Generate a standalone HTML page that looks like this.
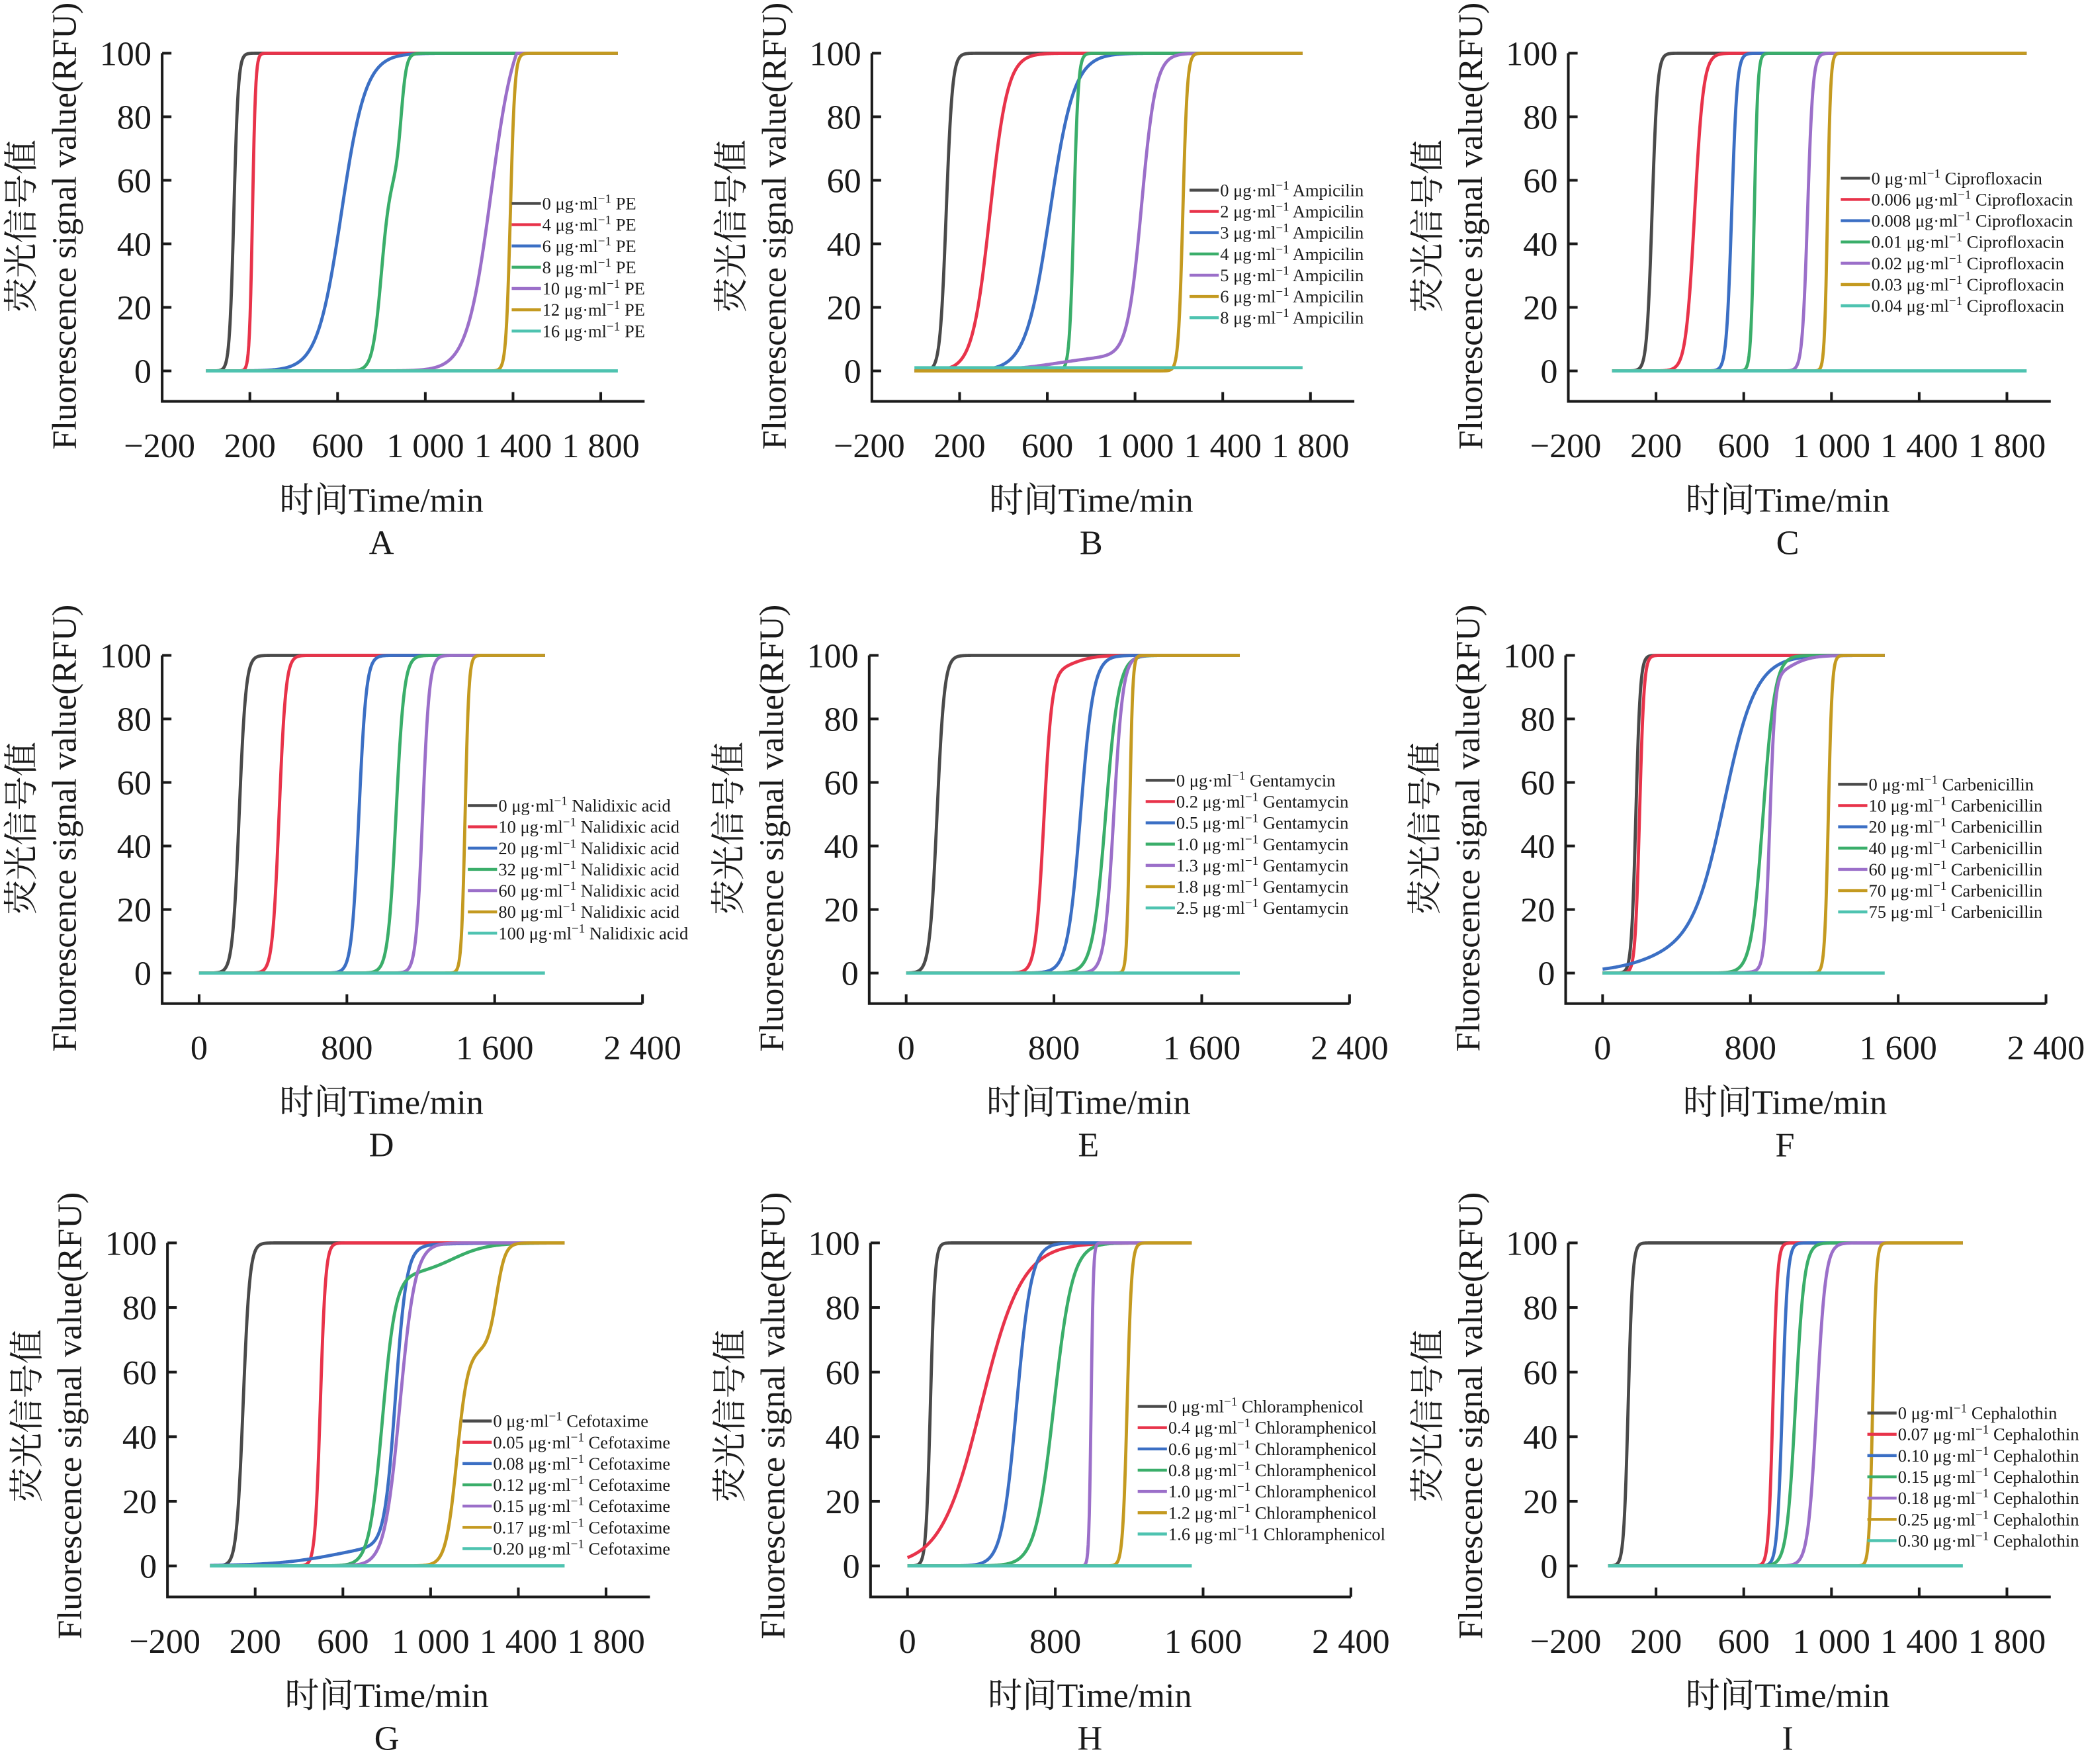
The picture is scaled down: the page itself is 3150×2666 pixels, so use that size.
<!DOCTYPE html>
<html><head><meta charset="utf-8">
<style>
html,body{margin:0;padding:0;background:#fff;}
svg{display:block;}
text{font-family:"Liberation Serif","Noto Serif CJK SC",serif;fill:#1a1a1a;}
</style></head>
<body>
<svg id="s" xmlns="http://www.w3.org/2000/svg" width="3150" height="2666" viewBox="0 0 1568 1327"></svg>
<script>
const NS="http://www.w3.org/2000/svg";
const svg=document.getElementById('s');
function el(tag,attrs,txt){const e=document.createElementNS(NS,tag);for(const k in attrs)e.setAttribute(k,attrs[k]);if(txt!==undefined)e.textContent=txt;svg.appendChild(e);return e;}
const C=['#4a4a4a','#e8334a','#3b6fc4','#3aae6a','#9b6fc9','#c49a20','#4ec3b0'];
const panels=[
 {ax:122,y100:40,y0:279,type:1,letter:'A',t0:0,t1:1880,lx:385,ly:153,drug:'PE',doses:['0','4','6','8','10','12','16'],
  curves:[[[100,127,10]],[[100,212,7]],[[100,618,55]],[[62,800,20],[38,890,12]],[[112,1300,55]],[[100,1388,10]],[]]},
 {ax:656,y100:40,y0:279,type:1,letter:'B',t0:-6,t1:1764,lx:895,ly:143,drug:'Ampicilin',doses:['0','2','3','4','5','6','8'],base:1,
  curves:[[[100,139,14]],[[100,339,40]],[[100,612,55]],[[100,721,10]],[[5,650,120],[95,1030,32]],[[100,1218,10]],[]]},
 {ax:1180,y100:40,y0:279,type:1,letter:'C',t0:0,t1:1891,lx:1385,ly:134,drug:'Ciprofloxacin',doses:['0','0.006','0.008','0.01','0.02','0.03','0.04'],
  curves:[[[100,182,12]],[[100,376,20]],[[100,545,12]],[[100,648,8]],[[100,891,12]],[[100,982,7]],[]]},
 {ax:122,y100:493,y0:732,type:2,letter:'D',t0:0,t1:1872,lx:352,ly:606,drug:'Nalidixic acid',doses:['0','10','20','32','60','80','100'],
  curves:[[[100,217,18]],[[100,433,18]],[[100,865,20]],[[100,1066,22]],[[100,1210,18]],[[100,1440,10]],[]]},
 {ax:654,y100:493,y0:732,type:2,letter:'E',t0:0,t1:1807,lx:862,ly:587,drug:'Gentamycin',doses:['0','0.2','0.5','1.0','1.3','1.8','2.5'],
  curves:[[[100,167,20]],[[95,745,22],[5,900,60]],[[100,944,35]],[[100,1080,35]],[[100,1124,25]],[[100,1210,8]],[]]},
 {ax:1178,y100:493,y0:732,type:2,letter:'F',t0:0,t1:1527,lx:1383,ly:590,drug:'Carbenicillin',doses:['0','10','20','40','60','70','75'],
  curves:[[[100,180,12]],[[100,200,12]],[[90,660,85],[10,300,150]],[[100,869,32]],[[92,905,14],[8,1000,60]],[[100,1222,10]],[]]},
 {ax:126,y100:935,y0:1178,type:1,letter:'G',t0:-6,t1:1612,lx:348,ly:1069,drug:'Cefotaxime',doses:['0','0.05','0.08','0.12','0.15','0.17','0.20'],
  curves:[[[100,145,15]],[[100,497,12]],[[8,600,150],[92,840,25]],[[90,780,30],[10,1100,80]],[[100,860,35]],[[67,1120,25],[33,1300,20]],[]]},
 {ax:655,y100:935,y0:1178,type:2,letter:'H',t0:0,t1:1541,lx:856,ly:1058,drug:'Chloramphenicol',doses:['0','0.4','0.6','0.8','1.0','1.2','1.6'],
  curves:[[[100,124,12]],[[100,400,110]],[[100,591,40]],[[100,793,50]],[[100,994,6]],[[100,1189,12]],[]]},
 {ax:1180,y100:935,y0:1178,type:1,letter:'I',t0:-18,t1:1600,lx:1405,ly:1063,drug:'Cephalothin',doses:['0','0.07','0.10','0.15','0.18','0.25','0.30'],
  curves:[[[100,73,10]],[[100,733,10]],[[100,776,12]],[[100,836,20]],[[100,933,20]],[[100,1188,8]],[]]},
];
panels.forEach(p=>{
  const sx=p.type==1?0.165:0.139;
  const X=t=>p.ax+(t+200)*sx;
  const ys=(p.y0-p.y100)/100;
  const Y=v=>p.y0-v*ys;
  const axB=p.y0+(p.y0-p.y100)*0.096;
  const tEnd=p.type==1?2000:2400;
  el('path',{d:`M${p.ax},${p.y100} V${axB} H${X(tEnd)}`,fill:'none',stroke:'#1a1a1a','stroke-width':2});
  for(let v=0;v<=100;v+=20){
    el('line',{x1:p.ax,x2:p.ax+7,y1:Y(v),y2:Y(v),stroke:'#1a1a1a','stroke-width':2});
    el('text',{x:p.ax-8,y:Y(v)+9,'text-anchor':'end','font-size':26},String(v));
  }
  const ticks=p.type==1?[[-200,'\u2212200'],[200,'200'],[600,'600'],[1000,'1 000'],[1400,'1 400'],[1800,'1 800']]:[[0,'0'],[800,'800'],[1600,'1 600'],[2400,'2 400']];
  const tly=axB+42;
  ticks.forEach(([t,l])=>{
    if(t>-200) el('line',{x1:X(t),x2:X(t),y1:axB,y2:axB-7,stroke:'#1a1a1a','stroke-width':2});
    el('text',{x:X(t)+(t==-200?-2:0),y:tly,'text-anchor':'middle','font-size':26},l);
  });
  const cx=p.ax+165;
  el('text',{x:cx,y:axB+83,'text-anchor':'middle','font-size':26},'时间Time/min');
  el('text',{x:cx,y:axB+115,'text-anchor':'middle','font-size':26},p.letter);
  const ymid=p.y100+130;
  el('text',{x:0,y:0,'text-anchor':'middle','font-size':26,transform:`translate(${p.ax-97},${ymid}) rotate(-90)`},'荧光信号值');
  el('text',{x:0,y:0,'text-anchor':'middle','font-size':26,transform:`translate(${p.ax-65},${ymid}) rotate(-90)`},'Fluorescence signal value(RFU)');
  p.curves.forEach((comps,i)=>{
    let d='';
    for(let t=p.t0;t<=p.t1;t+=3){
      let v=(p.base&&i==6)?p.base:0;
      comps.forEach(([a,m,w])=>{v+=a/(1+Math.exp(-(t-m)/w));});
      if(v>100)v=100;
      d+=(d?'L':'M')+X(t).toFixed(2)+','+Y(v).toFixed(2);
    }
    el('path',{d:d,fill:'none',stroke:C[i],'stroke-width':2.4,'stroke-linejoin':'round'});
  });
  p.doses.forEach((ds,i)=>{
    const y=p.ly+i*16;
    el('line',{x1:p.lx,x2:p.lx+22,y1:y,y2:y,stroke:C[i],'stroke-width':2.2});
    const tx=el('text',{x:p.lx+23,y:y+4.5,'font-size':13.2});
    const a=document.createElementNS(NS,'tspan');a.textContent=ds+' μg·ml';tx.appendChild(a);
    const b=document.createElementNS(NS,'tspan');b.setAttribute('dy','-5');b.setAttribute('font-size','9.5');b.textContent='−1';tx.appendChild(b);
    const c=document.createElementNS(NS,'tspan');c.setAttribute('dy','5');
    c.textContent=(p.letter=='H'&&i==6?'1 ':' ')+p.drug;tx.appendChild(c);
  });
});
</script>
</body></html>
